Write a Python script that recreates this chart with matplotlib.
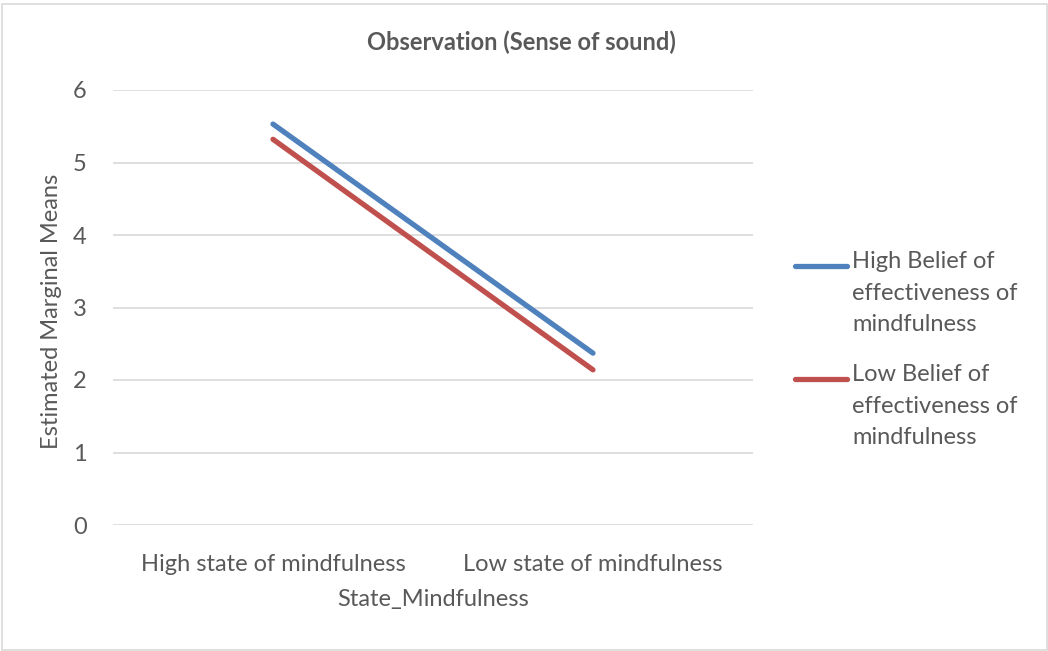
import matplotlib
matplotlib.use("Agg")
import matplotlib.pyplot as plt
from matplotlib.patches import Rectangle
from matplotlib.lines import Line2D

# data
states = ["High state of mindfulness", "Low state of mindfulness"]
high_belief = [5.53, 2.37]
low_belief = [5.32, 2.14]
series_names = ["High Belief of\neffectiveness of\nmindfulness",
                "Low Belief of\neffectiveness of\nmindfulness"]
colors = ["#4F81BD", "#C0504D"]

txt = "#595959"
fs = 17
plt.rcParams['font.family'] = ['Lato', 'DejaVu Sans']

fig = plt.figure(figsize=(10.48, 6.51), dpi=100)
ax = fig.add_axes([113/1048, 1-525/651, 640/1048, 435/651])

x = range(len(states))
ax.plot(x, high_belief, color=colors[0], lw=3.8, solid_capstyle="round")
ax.plot(x, low_belief, color=colors[1], lw=3.8, solid_capstyle="round")

ax.set_xlim(-0.5, 1.5)
ax.set_ylim(0, 6)
ax.set_yticks(range(7))
ax.yaxis.grid(True, color="#D9D9D9", lw=1.2)
ax.set_axisbelow(True)
for s in ax.spines.values():
    s.set_visible(False)
ax.tick_params(axis="both", length=0, labelsize=fs, labelcolor=txt)
ax.tick_params(axis="y", pad=19)
ax.tick_params(axis="x", pad=21)
ax.set_xticks(list(x))
ax.set_xticklabels(states)
ax.set_xlabel("State_Mindfulness", fontsize=fs, color=txt, labelpad=10)
ax.set_ylabel("Estimated Marginal Means", fontsize=fs, color=txt)
ax.yaxis.set_label_coords(-0.08, 0.49)

fig.text(521/1048, 1-42/651, "Observation (Sense of sound)", ha="center", va="center",
         fontsize=17, fontweight="bold", color=txt)

# legend drawn by hand so the key line sits on the first text line, like Excel
leg_y = [266, 379]
for name, c, yy in zip(series_names, colors, leg_y):
    yf = 1 - yy/651
    fig.lines.append(Line2D([795/1048, 847/1048], [yf, yf], transform=fig.transFigure,
                            color=c, lw=3.8, solid_capstyle="round"))
    fig.text(852/1048, yf + 15/651, name, ha="left", va="top", fontsize=fs, color=txt,
             linespacing=1.62)

fig.patches.append(Rectangle((1.5/1048, 1.5/651), 1045.5/1048, 646/651, transform=fig.transFigure,
                             fill=False, edgecolor="#D9D9D9", lw=1.2))

fig.savefig("out.png", dpi=100)
